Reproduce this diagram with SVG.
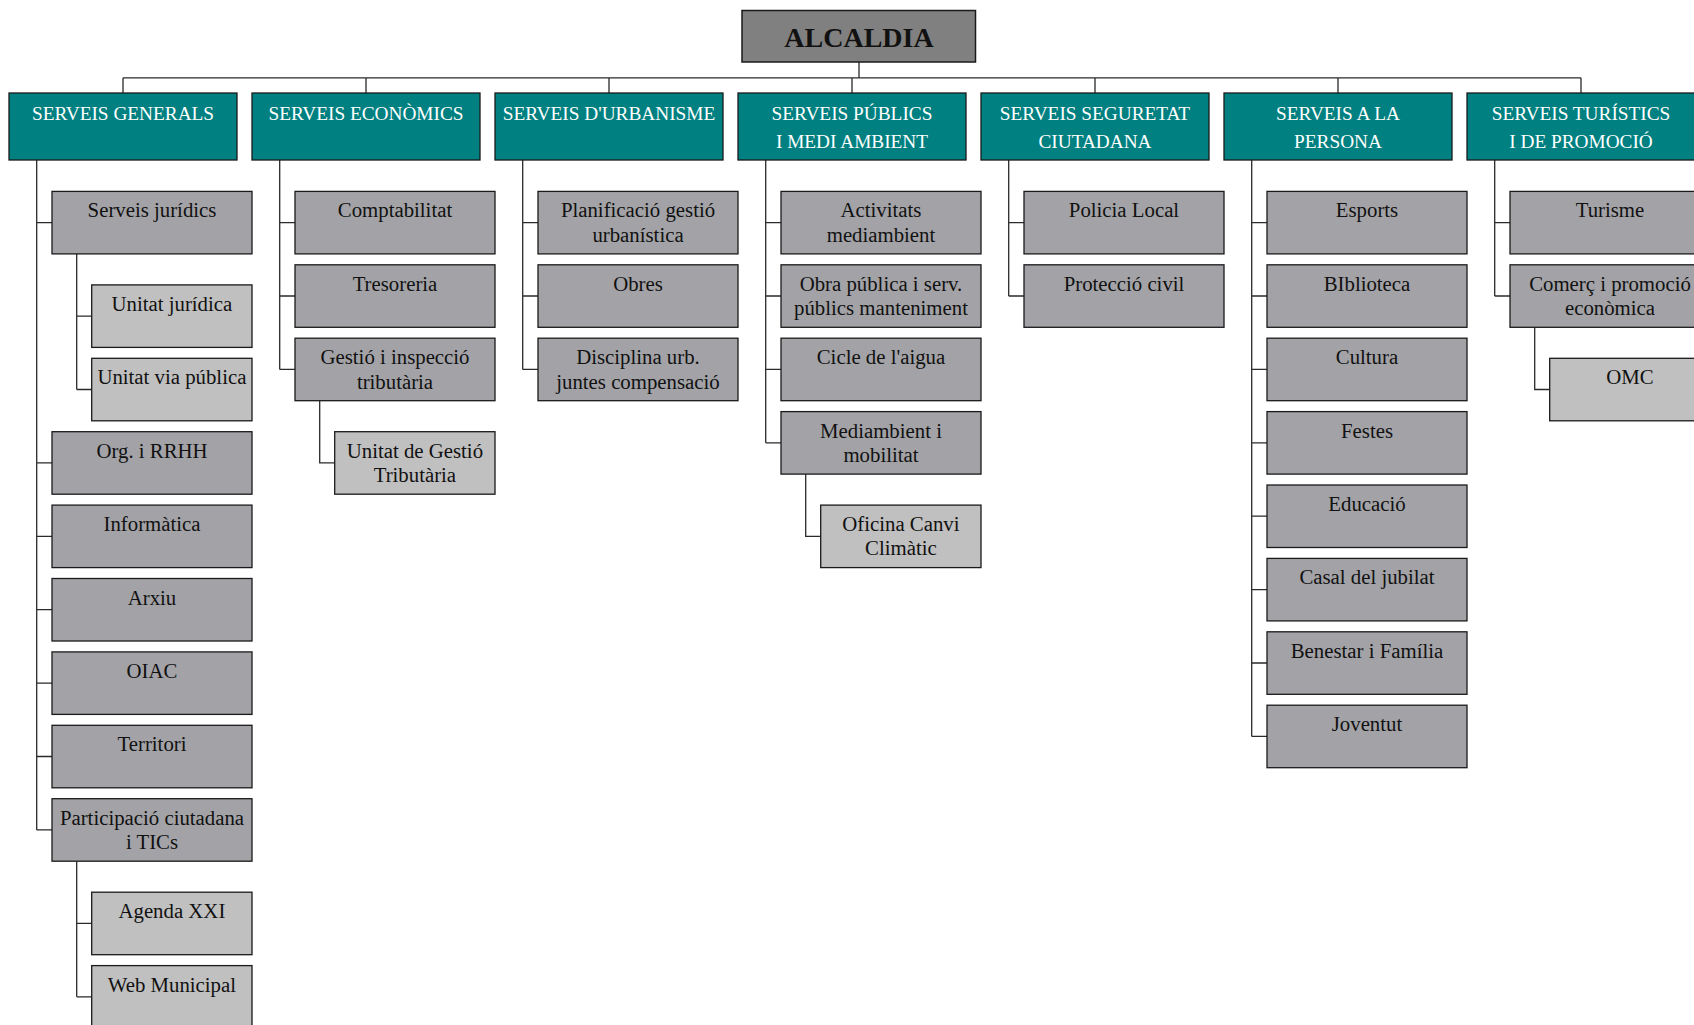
<svg xmlns="http://www.w3.org/2000/svg" width="1694" height="1025" viewBox="0 0 1694 1025">
<style>
  .top rect{fill:#808080;stroke:#1a1a1a;stroke-width:1.5}
  .hdr rect{fill:#008080;stroke:#1a1a1a;stroke-width:1.3}
  .sub rect{fill:#a3a3a7;stroke:#1a1a1a;stroke-width:1.3}
  .ss rect{fill:#c0c0c0;stroke:#1a1a1a;stroke-width:1.3}
  text{font-family:"Liberation Serif","DejaVu Serif",serif;text-anchor:middle}
  .hdr text{fill:#ffffff;font-size:19.3px}
  .sub text,.ss text{fill:#111111;font-size:20.8px}
  .top text{fill:#111111;font-size:28px;font-weight:bold}
  #connectors path{fill:none;stroke:#2a2a2a;stroke-width:1.3}
</style>
<rect width="1694" height="1025" fill="#ffffff"/>
<g id="connectors">
  <path d="M859 62 V77.8 M123 77.8 H1581 M123 77.8 V93 M366 77.8 V93 M609 77.8 V93 M852 77.8 V93 M1095 77.8 V93 M1338 77.8 V93 M1581 77.8 V93"/>
  <!-- col 0 -->
  <path d="M36.7 160 V829.9 M36.7 222.6 H52 M36.7 462.9 H52 M36.7 536.3 H52 M36.7 609.7 H52 M36.7 683.1 H52 M36.7 756.5 H52 M36.7 829.9 H52"/>
  <path d="M76.7 253.9 V389.5 M76.7 316.1 H91.7 M76.7 389.5 H91.7"/>
  <path d="M76.7 861.2 V996.8 M76.7 923.4 H91.7 M76.7 996.8 H91.7"/>
  <!-- col 1 -->
  <path d="M279.7 160 V369.4 M279.7 222.6 H295 M279.7 296 H295 M279.7 369.4 H295"/>
  <path d="M319.7 400.7 V462.9 H334.7"/>
  <!-- col 2 -->
  <path d="M522.7 160 V369.4 M522.7 222.6 H538 M522.7 296 H538 M522.7 369.4 H538"/>
  <!-- col 3 -->
  <path d="M765.7 160 V442.8 M765.7 222.6 H781 M765.7 296 H781 M765.7 369.4 H781 M765.7 442.8 H781"/>
  <path d="M805.7 474.1 V536.3 H820.7"/>
  <!-- col 4 -->
  <path d="M1008.7 160 V296 M1008.7 222.6 H1024 M1008.7 296 H1024"/>
  <!-- col 5 -->
  <path d="M1251.7 160 V736.4 M1251.7 222.6 H1267 M1251.7 296 H1267 M1251.7 369.4 H1267 M1251.7 442.8 H1267 M1251.7 516.2 H1267 M1251.7 589.6 H1267 M1251.7 663 H1267 M1251.7 736.4 H1267"/>
  <!-- col 6 -->
  <path d="M1494.7 160 V296 M1494.7 222.6 H1510 M1494.7 296 H1510"/>
  <path d="M1534.7 327.3 V389.5 H1549.7"/>
</g>

<g id="alcaldia" class="top"><rect x="742" y="10.5" width="233.5" height="51.5"/><text x="859" y="47">ALCALDIA</text></g>

<g id="h-generals" class="hdr"><rect x="9" y="93" width="228" height="67"/><text x="123" y="120">SERVEIS GENERALS</text></g>
<g id="h-economics" class="hdr"><rect x="252" y="93" width="228" height="67"/><text x="366" y="120">SERVEIS ECONÒMICS</text></g>
<g id="h-urbanisme" class="hdr"><rect x="495" y="93" width="228" height="67"/><text x="609" y="120">SERVEIS D'URBANISME</text></g>
<g id="h-publics" class="hdr"><rect x="738" y="93" width="228" height="67"/><text x="852" y="120">SERVEIS PÚBLICS</text><text x="852" y="148">I MEDI AMBIENT</text></g>
<g id="h-seguretat" class="hdr"><rect x="981" y="93" width="228" height="67"/><text x="1095" y="120">SERVEIS SEGURETAT</text><text x="1095" y="148">CIUTADANA</text></g>
<g id="h-persona" class="hdr"><rect x="1224" y="93" width="228" height="67"/><text x="1338" y="120">SERVEIS A LA</text><text x="1338" y="148">PERSONA</text></g>
<g id="h-turistics" class="hdr"><rect x="1467" y="93" width="228" height="67"/><text x="1581" y="120">SERVEIS TURÍSTICS</text><text x="1581" y="148">I DE PROMOCIÓ</text></g>

<!-- col 0 -->
<g id="serveis-juridics" class="sub"><rect x="52" y="191.4" width="200" height="62.5"/><text x="152" y="217.4">Serveis jurídics</text></g>
<g id="unitat-juridica" class="ss"><rect x="91.7" y="284.9" width="160.3" height="62.5"/><text x="171.9" y="310.9">Unitat jurídica</text></g>
<g id="unitat-via-publica" class="ss"><rect x="91.7" y="358.3" width="160.3" height="62.5"/><text x="171.9" y="384.3">Unitat via pública</text></g>
<g id="org-rrhh" class="sub"><rect x="52" y="431.7" width="200" height="62.5"/><text x="152" y="457.7">Org. i RRHH</text></g>
<g id="informatica" class="sub"><rect x="52" y="505.1" width="200" height="62.5"/><text x="152" y="531.1">Informàtica</text></g>
<g id="arxiu" class="sub"><rect x="52" y="578.5" width="200" height="62.5"/><text x="152" y="604.5">Arxiu</text></g>
<g id="oiac" class="sub"><rect x="52" y="651.9" width="200" height="62.5"/><text x="152" y="677.9">OIAC</text></g>
<g id="territori" class="sub"><rect x="52" y="725.3" width="200" height="62.5"/><text x="152" y="751.3">Territori</text></g>
<g id="participacio" class="sub"><rect x="52" y="798.7" width="200" height="62.5"/><text x="152" y="824.7">Participació ciutadana</text><text x="152" y="849">i TICs</text></g>
<g id="agenda-xxi" class="ss"><rect x="91.7" y="892.2" width="160.3" height="62.5"/><text x="171.9" y="918.2">Agenda XXI</text></g>
<g id="web-municipal" class="ss"><rect x="91.7" y="965.6" width="160.3" height="62.5"/><text x="171.9" y="991.6">Web Municipal</text></g>

<!-- col 1 -->
<g id="comptabilitat" class="sub"><rect x="295" y="191.4" width="200" height="62.5"/><text x="395" y="217.4">Comptabilitat</text></g>
<g id="tresoreria" class="sub"><rect x="295" y="264.8" width="200" height="62.5"/><text x="395" y="290.8">Tresoreria</text></g>
<g id="gestio-inspeccio" class="sub"><rect x="295" y="338.2" width="200" height="62.5"/><text x="395" y="364.2">Gestió i inspecció</text><text x="395" y="388.5">tributària</text></g>
<g id="unitat-gestio-tributaria" class="ss"><rect x="334.7" y="431.7" width="160.3" height="62.5"/><text x="414.9" y="457.7">Unitat de Gestió</text><text x="414.9" y="482">Tributària</text></g>

<!-- col 2 -->
<g id="planificacio" class="sub"><rect x="538" y="191.4" width="200" height="62.5"/><text x="638" y="217.4">Planificació gestió</text><text x="638" y="241.7">urbanística</text></g>
<g id="obres" class="sub"><rect x="538" y="264.8" width="200" height="62.5"/><text x="638" y="290.8">Obres</text></g>
<g id="disciplina" class="sub"><rect x="538" y="338.2" width="200" height="62.5"/><text x="638" y="364.2">Disciplina urb.</text><text x="638" y="388.5">juntes compensació</text></g>

<!-- col 3 -->
<g id="activitats" class="sub"><rect x="781" y="191.4" width="200" height="62.5"/><text x="881" y="217.4">Activitats</text><text x="881" y="241.7">mediambient</text></g>
<g id="obra-publica" class="sub"><rect x="781" y="264.8" width="200" height="62.5"/><text x="881" y="290.8">Obra pública i serv.</text><text x="881" y="315.1">públics manteniment</text></g>
<g id="cicle-aigua" class="sub"><rect x="781" y="338.2" width="200" height="62.5"/><text x="881" y="364.2">Cicle de l'aigua</text></g>
<g id="mediambient-mobilitat" class="sub"><rect x="781" y="411.6" width="200" height="62.5"/><text x="881" y="437.6">Mediambient i</text><text x="881" y="461.9">mobilitat</text></g>
<g id="oficina-canvi-climatic" class="ss"><rect x="820.7" y="505.1" width="160.3" height="62.5"/><text x="900.9" y="531.1">Oficina Canvi</text><text x="900.9" y="555.4">Climàtic</text></g>

<!-- col 4 -->
<g id="policia-local" class="sub"><rect x="1024" y="191.4" width="200" height="62.5"/><text x="1124" y="217.4">Policia Local</text></g>
<g id="proteccio-civil" class="sub"><rect x="1024" y="264.8" width="200" height="62.5"/><text x="1124" y="290.8">Protecció civil</text></g>

<!-- col 5 -->
<g id="esports" class="sub"><rect x="1267" y="191.4" width="200" height="62.5"/><text x="1367" y="217.4">Esports</text></g>
<g id="biblioteca" class="sub"><rect x="1267" y="264.8" width="200" height="62.5"/><text x="1367" y="290.8">BIblioteca</text></g>
<g id="cultura" class="sub"><rect x="1267" y="338.2" width="200" height="62.5"/><text x="1367" y="364.2">Cultura</text></g>
<g id="festes" class="sub"><rect x="1267" y="411.6" width="200" height="62.5"/><text x="1367" y="437.6">Festes</text></g>
<g id="educacio" class="sub"><rect x="1267" y="485" width="200" height="62.5"/><text x="1367" y="511">Educació</text></g>
<g id="casal-jubilat" class="sub"><rect x="1267" y="558.4" width="200" height="62.5"/><text x="1367" y="584.4">Casal del jubilat</text></g>
<g id="benestar-familia" class="sub"><rect x="1267" y="631.8" width="200" height="62.5"/><text x="1367" y="657.8">Benestar i Família</text></g>
<g id="joventut" class="sub"><rect x="1267" y="705.2" width="200" height="62.5"/><text x="1367" y="731.2">Joventut</text></g>

<!-- col 6 -->
<g id="turisme" class="sub"><rect x="1510" y="191.4" width="200" height="62.5"/><text x="1610" y="217.4">Turisme</text></g>
<g id="comerc-promocio" class="sub"><rect x="1510" y="264.8" width="200" height="62.5"/><text x="1610" y="290.8">Comerç i promoció</text><text x="1610" y="315.1">econòmica</text></g>
<g id="omc" class="ss"><rect x="1549.7" y="358.3" width="160.3" height="62.5"/><text x="1629.9" y="384.3">OMC</text></g>
</svg>
